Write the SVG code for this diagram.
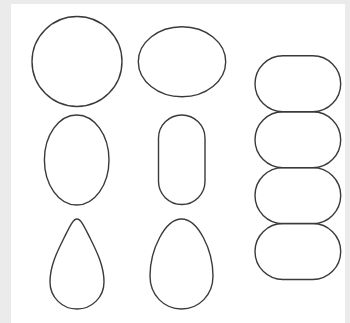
<svg xmlns="http://www.w3.org/2000/svg" width="350" height="323" viewBox="0 0 350 323">
<style>
.s{fill:none;stroke:#3a3a3a;stroke-width:1.4}
</style>
<rect width="350" height="323" fill="#ebebeb"/>
<rect x="11" y="4" width="334" height="319" fill="#ffffff"/>
<g id="circle"><circle class="s" cx="77" cy="61.5" r="45"/></g>
<g id="ellipse-wide"><ellipse class="s" cx="182" cy="61.7" rx="43.7" ry="35"/></g>
<g id="ellipse-tall"><ellipse class="s" cx="76.7" cy="160" rx="32.3" ry="45"/></g>
<g id="stadium-vertical"><rect class="s" x="158.5" y="115" width="46.5" height="89.5" rx="23.25" ry="23.25"/></g>
<g id="teardrop"><path class="s" d="M77,219 C81,219 84,226 90,238 C97,252 104,266 104,282 C104,297 92,309 77,309 C62,309 50,297 50,282 C50,266 57,252 64,238 C70,226 73,219 77,219 Z"/></g>
<g id="egg"><path class="s" d="M181.5,219 C198,219 213,250 213,276 C213,295 199,309 181.5,309 C164,309 150,295 150,276 C150,250 165,219 181.5,219 Z"/></g>
<g id="stadium-1"><rect class="s" x="255" y="55.7" width="85.7" height="56" rx="28" ry="28"/></g>
<g id="stadium-2"><rect class="s" x="255" y="111.7" width="85.7" height="56" rx="28" ry="28"/></g>
<g id="stadium-3"><rect class="s" x="255" y="167.6" width="85.7" height="56" rx="28" ry="28"/></g>
<g id="stadium-4"><rect class="s" x="255" y="223.5" width="85.7" height="56" rx="28" ry="28"/></g>
<g id="connectors"/>
</svg>
